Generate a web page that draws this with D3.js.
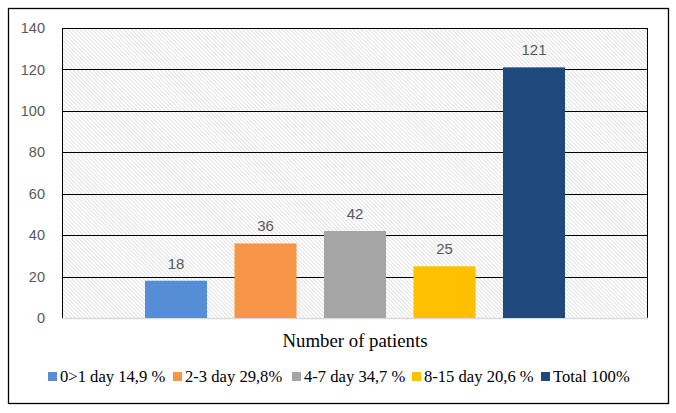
<!DOCTYPE html>
<html>
<head>
<meta charset="utf-8">
<script src="https://cdn.jsdelivr.net/npm/d3@7"></script>
<style>
  body { margin: 0; background: #fff; }
</style>
</head>
<body>
<div id="chart"></div>
<script>
// chart data
var categories = ["Number of patients"];
var seriesNames = ["0>1 day 14,9 %", "2-3 day 29,8%", "4-7 day 34,7 %", "8-15 day 20,6 %", "Total 100%"];
var seriesValues = [18, 36, 42, 25, 121];
var seriesColors = ["#558ed5", "#f79646", "#a5a5a5", "#ffc000", "#1f497d"];
var yTicks = [0, 20, 40, 60, 80, 100, 120, 140];

var W = 676, H = 413;
var margin = {top: 28, right: 28, bottom: 95, left: 62},
    width = W - margin.left - margin.right,
    height = H - margin.top - margin.bottom;

var root = d3.select("#chart").append("svg")
    .attr("width", W)
    .attr("height", H);

// outer frame
root.append("rect")
    .attr("x", 8.5).attr("y", 8.5)
    .attr("width", 660).attr("height", 395)
    .attr("fill", "#fff").attr("stroke", "#000").attr("stroke-width", 1.3);

// hatch pattern for plot background
var defs = root.append("defs");
var pat = defs.append("pattern")
    .attr("id", "hatch")
    .attr("patternUnits", "userSpaceOnUse")
    .attr("width", 2.8).attr("height", 2.8)
    .attr("patternTransform", "rotate(-45)");
pat.append("rect").attr("width", 2.8).attr("height", 2.8).attr("fill", "#fff");
pat.append("line")
    .attr("x1", 0).attr("y1", 0).attr("x2", 0).attr("y2", 2.8)
    .attr("stroke", "#c8c8c8").attr("stroke-width", 1);

var svg = root.append("g")
    .attr("transform", "translate(" + margin.left + "," + margin.top + ")");

var y = d3.scaleLinear().domain([0, 140]).range([height, 0]);

var x0 = d3.scaleBand().domain(categories).range([0, width]).paddingOuter(0.1976).paddingInner(0);
var x1 = d3.scaleBand().domain(seriesNames).range([0, x0.bandwidth()]).paddingInner(0.307).paddingOuter(0);

svg.append("rect")
    .attr("width", width).attr("height", height)
    .attr("fill", "url(#hatch)");

// gridlines
svg.append("g")
  .selectAll("line")
  .data(yTicks.filter(function(d) { return d > 0; }))
  .enter().append("line")
    .attr("x1", 0).attr("x2", width)
    .attr("y1", function(d) { return Math.round(y(d)) + 0.5; })
    .attr("y2", function(d) { return Math.round(y(d)) + 0.5; })
    .attr("stroke", "#000").attr("stroke-width", 1);

// plot area side borders
svg.append("line").attr("x1", 0.5).attr("x2", 0.5).attr("y1", 0).attr("y2", height)
    .attr("stroke", "#000");
svg.append("line").attr("x1", width - 0.5).attr("x2", width - 0.5).attr("y1", 0).attr("y2", height)
    .attr("stroke", "#000");

// y axis labels
var yAxis = svg.append("g")
    .call(d3.axisLeft(y).tickValues(yTicks).tickSize(0).tickPadding(17));
yAxis.select(".domain").remove();
yAxis.selectAll("text")
    .attr("fill", "#595959")
    .style("font-family", "'Liberation Sans', Arial, sans-serif")
    .style("font-size", "14.5px");

// baseline
svg.append("line")
    .attr("x1", 0).attr("x2", width)
    .attr("y1", height + 0.5).attr("y2", height + 0.5)
    .attr("stroke", "#d9d9d9").attr("stroke-width", 1.5);

// bars
var grp = svg.selectAll(".grp")
    .data(categories)
    .enter().append("g")
    .attr("transform", function(d) { return "translate(" + x0(d) + ",0)"; });

grp.selectAll("rect")
    .data(seriesNames)
    .enter().append("rect")
    .attr("x", function(d) { return x1(d); })
    .attr("y", function(d, i) { return y(seriesValues[i]); })
    .attr("width", x1.bandwidth())
    .attr("height", function(d, i) { return height - y(seriesValues[i]); })
    .attr("fill", function(d, i) { return seriesColors[i]; });

grp.selectAll(".lbl")
    .data(seriesNames)
    .enter().append("text")
    .attr("x", function(d) { return x1(d) + x1.bandwidth() / 2; })
    .attr("y", function(d, i) { return y(seriesValues[i]) - 12; })
    .attr("text-anchor", "middle")
    .attr("fill", "#595959")
    .style("font-family", "'Liberation Sans', Arial, sans-serif")
    .style("font-size", "15px")
    .text(function(d, i) { return seriesValues[i]; });

// category axis title
svg.append("text")
    .attr("x", x0(categories[0]) + x0.bandwidth() / 2)
    .attr("y", height + 29)
    .attr("text-anchor", "middle")
    .attr("fill", "#000")
    .style("font-family", "'Liberation Serif', 'Times New Roman', serif")
    .style("font-size", "18.8px")
    .text(categories[0]);

// legend
var legendX = [48, 173, 292, 412, 541];
var legend = root.append("g");
seriesNames.forEach(function(name, i) {
  var g = legend.append("g").attr("transform", "translate(" + legendX[i] + ",372)");
  g.append("rect").attr("width", 9).attr("height", 9).attr("fill", seriesColors[i]);
  g.append("text")
    .attr("x", 12).attr("y", 10)
    .attr("fill", "#000")
    .style("font-family", "'Liberation Serif', 'Times New Roman', serif")
    .style("font-size", "16.6px")
    .text(name);
});
</script>
</body>
</html>
